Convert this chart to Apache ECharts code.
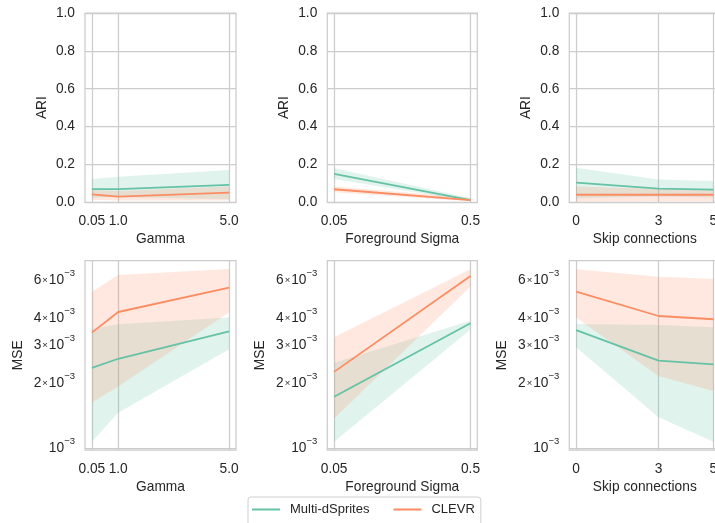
<!DOCTYPE html>
<html><head><meta charset="utf-8">
<script src="https://cdn.jsdelivr.net/npm/echarts@6/dist/echarts.min.js"></script>
<style>html,body{margin:0;padding:0;background:#fff}#c{width:715px;height:523px}</style>
</head><body><div id="c"></div>
<script>
const seriesNames = ['Multi-dSprites', 'CLEVR'];
const seriesColors = ['#66c2a5', '#fc8d62'];
const xTitles = ['Gamma', 'Foreground Sigma', 'Skip connections'];

const gammaX = [0.05, 1.0, 5.0];
const gammaTicks = ['0.05', '1.0', '5.0'];
const sigmaX = [0.05, 0.5];
const sigmaTicks = ['0.05', '0.5'];
const skipX = [0, 3, 5];
const skipTicks = ['0', '3', '5'];

// ARI (mean, lower CI, upper CI)
const ariGammaDsp   = [0.070, 0.070, 0.092];
const ariGammaDspLo = [0.026, 0.028, 0.016];
const ariGammaDspHi = [0.123, 0.135, 0.171];
const ariGammaClv   = [0.042, 0.030, 0.051];
const ariGammaClvLo = [0.014, 0.010, 0.010];
const ariGammaClvHi = [0.065, 0.060, 0.083];

const ariSigmaDsp   = [0.150, 0.012];
const ariSigmaDspLo = [0.123, 0.005];
const ariSigmaDspHi = [0.180, 0.022];
const ariSigmaClv   = [0.069, 0.012];
const ariSigmaClvLo = [0.053, 0.005];
const ariSigmaClvHi = [0.083, 0.024];

const ariSkipDsp   = [0.104, 0.072, 0.067];
const ariSkipDspLo = [0.021, 0.030, 0.025];
const ariSkipDspHi = [0.183, 0.121, 0.112];
const ariSkipClv   = [0.040, 0.040, 0.040];
const ariSkipClvLo = [0.004, 0.005, 0.005];
const ariSkipClvHi = [0.083, 0.070, 0.065];

// MSE (mean, lower CI, upper CI)
const mseGammaDsp   = [2.36e-3, 2.60e-3, 3.49e-3];
const mseGammaDspLo = [1.07e-3, 1.46e-3, 2.88e-3];
const mseGammaDspHi = [3.58e-3, 3.76e-3, 4.04e-3];
const mseGammaClv   = [3.44e-3, 4.29e-3, 5.57e-3];
const mseGammaClvLo = [1.63e-3, 1.93e-3, 4.28e-3];
const mseGammaClvHi = [5.32e-3, 6.38e-3, 6.80e-3];

const mseSigmaDsp   = [1.73e-3, 3.80e-3];
const mseSigmaDspLo = [1.07e-3, 3.56e-3];
const mseSigmaDspHi = [2.49e-3, 3.91e-3];
const mseSigmaClv   = [2.26e-3, 6.31e-3];
const mseSigmaClvLo = [1.37e-3, 5.63e-3];
const mseSigmaClvHi = [3.27e-3, 6.78e-3];

const mseSkipDsp   = [3.53e-3, 2.55e-3, 2.45e-3];
const mseSkipDspLo = [2.94e-3, 1.39e-3, 1.07e-3];
const mseSkipDspHi = [3.77e-3, 3.73e-3, 3.64e-3];
const mseSkipClv   = [5.33e-3, 4.11e-3, 3.97e-3];
const mseSkipClvLo = [4.05e-3, 2.16e-3, 1.84e-3];
const mseSkipClvHi = [6.78e-3, 6.26e-3, 6.11e-3];

const mseTickValues = [1e-3, 2e-3, 3e-3, 4e-3, 6e-3];
const mseTickMantissa = ['', '2', '3', '4', '6'];
const mseRange = [0.979e-3, 7.43e-3];

const panels = [
  {x: gammaX, ticks: gammaTicks,
   ari: [[ariGammaDsp, ariGammaDspLo, ariGammaDspHi], [ariGammaClv, ariGammaClvLo, ariGammaClvHi]],
   mse: [[mseGammaDsp, mseGammaDspLo, mseGammaDspHi], [mseGammaClv, mseGammaClvLo, mseGammaClvHi]]},
  {x: sigmaX, ticks: sigmaTicks,
   ari: [[ariSigmaDsp, ariSigmaDspLo, ariSigmaDspHi], [ariSigmaClv, ariSigmaClvLo, ariSigmaClvHi]],
   mse: [[mseSigmaDsp, mseSigmaDspLo, mseSigmaDspHi], [mseSigmaClv, mseSigmaClvLo, mseSigmaClvHi]]},
  {x: skipX, ticks: skipTicks,
   ari: [[ariSkipDsp, ariSkipDspLo, ariSkipDspHi], [ariSkipClv, ariSkipClvLo, ariSkipClvHi]],
   mse: [[mseSkipDsp, mseSkipDspLo, mseSkipDspHi], [mseSkipClv, mseSkipClvLo, mseSkipClvHi]]}
];

const FONT = 'Liberation Sans, Arial, sans-serif';
const FS = 13.75;
const TXT = '#262626';
const GRIDC = '#cccccc';
const lefts = [85, 327.3, 569.3];
const widths = [151, 150, 151];
const tops = [13, 260.7];
const H = 189.3;

const grids = [], xAxes = [], yAxes = [], series = [];
const lg = v => Math.log10(v);

function bandSeries(gi, xs, lo, hi, color, transform) {
  const data = xs.map((x, i) => [x, transform(lo[i]), transform(hi[i])]);
  return {
    type: 'custom', xAxisIndex: gi, yAxisIndex: gi, silent: true, z: 1,
    encode: {x: 0, y: [1, 2]},
    data: data,
    renderItem: function (params, api) {
      if (params.dataIndex !== 0) return null;
      const n = data.length;
      const top = [], bot = [];
      for (let j = 0; j < n; j++) {
        top.push(api.coord([api.value(0, j), api.value(2, j)]));
        bot.push(api.coord([api.value(0, j), api.value(1, j)]));
      }
      return {type: 'polygon', shape: {points: top.concat(bot.reverse())},
              style: {fill: color, opacity: 0.2}};
    }
  };
}

function supLabel(mant) {
  if (mant === '') return '{b|10}{s|−3}';
  return '{b|' + mant + '}{m|×}{b|10}{s|−3}';
}

for (let row = 0; row < 2; row++) {
  for (let col = 0; col < 3; col++) {
    const gi = row * 3 + col;
    const p = panels[col];
    const xs = p.x;
    const span = xs[xs.length - 1] - xs[0];
    grids.push({left: lefts[col], top: tops[row], width: widths[col], height: H,
      outerBoundsMode: 'none', containLabel: false,
      show: true, borderColor: GRIDC, borderWidth: 1.25, backgroundColor: 'transparent'});
    xAxes.push({
      type: 'value', gridIndex: gi, min: xs[0] - span * 0.05, max: xs[xs.length - 1] + span * 0.05,
      name: xTitles[col], nameLocation: 'middle', nameGap: 30,
      nameTextStyle: {fontFamily: FONT, fontSize: FS, color: TXT},
      axisLine: {show: false},
      axisTick: {show: false, customValues: xs},
      axisLabel: {customValues: xs, fontFamily: FONT, fontSize: FS, color: TXT, margin: 12,
        formatter: v => p.ticks[xs.indexOf(v)] !== undefined ? p.ticks[xs.indexOf(v)] : ''},
      splitLine: {show: true, lineStyle: {color: GRIDC, width: 1.25}}
    });
    if (row === 0) {
      yAxes.push({
        type: 'value', gridIndex: gi, min: 0, max: 1, interval: 0.2,
        name: 'ARI', nameLocation: 'middle', nameGap: 36,
        nameTextStyle: {fontFamily: FONT, fontSize: FS, color: TXT},
        axisLine: {show: false}, axisTick: {show: false},
        axisLabel: {fontFamily: FONT, fontSize: FS, color: TXT, margin: 10, formatter: v => v.toFixed(1)},
        splitLine: {show: true, lineStyle: {color: GRIDC, width: 1.25}}
      });
    } else {
      const tv = mseTickValues.map(lg);
      yAxes.push({
        type: 'value', gridIndex: gi, min: lg(mseRange[0]), max: lg(mseRange[1]),
        name: 'MSE', nameLocation: 'middle', nameGap: 60,
        nameTextStyle: {fontFamily: FONT, fontSize: FS, color: TXT},
        axisLine: {show: false},
        axisTick: {show: false, customValues: [tv[0]]},
        axisLabel: {customValues: tv, margin: 10,
          formatter: v => {
            let k = 0, best = 1e9;
            tv.forEach((t, i) => { if (Math.abs(t - v) < best) { best = Math.abs(t - v); k = i; } });
            return supLabel(mseTickMantissa[k]);
          },
          rich: {
            b: {fontFamily: FONT, fontSize: FS, color: TXT, lineHeight: 24, verticalAlign: 'middle'},
            m: {fontFamily: FONT, fontSize: 9.5, color: TXT, verticalAlign: 'middle', padding: [0, 1, 0, 1]},
            s: {fontFamily: FONT, fontSize: 9.5, color: TXT, verticalAlign: 'top'}
          }},
        splitLine: {show: true, lineStyle: {color: GRIDC, width: 1.25}}
      });
    }
    const sets = row === 0 ? p.ari : p.mse;
    const tf = row === 0 ? (v => v) : lg;
    for (let s = 0; s < 2; s++) {
      const [mean, lo, hi] = sets[s];
      series.push(bandSeries(gi, xs, lo, hi, seriesColors[s], tf));
      series.push({
        type: 'line', name: seriesNames[s], xAxisIndex: gi, yAxisIndex: gi, z: 3,
        data: xs.map((x, i) => [x, tf(mean[i])]),
        showSymbol: false, symbol: 'none', silent: true,
        lineStyle: {color: seriesColors[s], width: 1.8},
        itemStyle: {color: seriesColors[s]}
      });
    }
  }
}

const chart = echarts.init(document.getElementById('c'), null, {renderer: 'canvas'});
chart.setOption({
  animation: false,
  backgroundColor: '#ffffff',
  grid: grids, xAxis: xAxes, yAxis: yAxes, series: series,
  legend: {
    data: seriesNames, left: 248, top: 497, orient: 'horizontal',
    icon: 'rect', itemWidth: 28, itemHeight: 2, itemGap: 24,
    padding: [6, 6, 10, 4],
    borderColor: '#d0d0d0', borderWidth: 1, borderRadius: 3,
    textStyle: {fontFamily: FONT, fontSize: 13, color: TXT, padding: [0, 0, 0, 5]}
  }
});
</script></body></html>
